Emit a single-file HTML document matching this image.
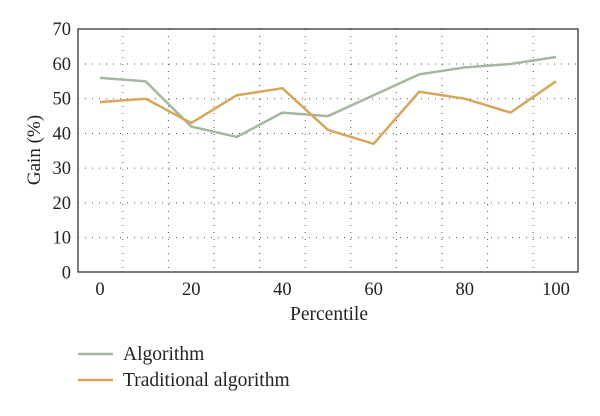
<!DOCTYPE html>
<html><head><meta charset="utf-8"><style>
body{margin:0;background:#fff;}
svg text{font-family:"Liberation Serif",serif;fill:#222;}
</style></head><body>
<svg width="600" height="411" viewBox="0 0 600 411">
<g id="grid"></g>
<rect x="78" y="29" width="500" height="243" fill="none" stroke="#333" stroke-width="1.3"/>
<g id="ticks"></g>
<g id="series"></g>
<text x="40" y="150" font-size="19" text-anchor="middle" transform="rotate(-90 40 150)">Gain (%)</text>
<text x="329" y="320" font-size="19.5" text-anchor="middle">Percentile</text>
<g>
<line x1="78" y1="354" x2="113" y2="354" stroke="#a3b89c" stroke-width="2.5"/>
<text x="123" y="360" font-size="19.5">Algorithm</text>
<line x1="78" y1="380" x2="113" y2="380" stroke="#d6a65c" stroke-width="2.5"/>
<text x="123" y="386" font-size="19.5">Traditional algorithm</text>
</g>
</svg>
<script>
const percentiles=[0,10,20,30,40,50,60,70,80,90,100];
const algorithm=[56,55,42,39,46,45,51,57,59,60,62];
const traditional=[49,50,43,51,53,41,37,52,50,46,55];
const xTicks=[0,20,40,60,80,100];
const yTicks=[0,10,20,30,40,50,60,70];
const NS="http://www.w3.org/2000/svg";
const xs=v=>100+v*4.56;
const ys=v=>272.4-v*3.474;
const grid=document.getElementById('grid'),ticks=document.getElementById('ticks'),series=document.getElementById('series');
function mk(t,a){const e=document.createElementNS(NS,t);for(const k in a)e.setAttribute(k,a[k]);return e;}
for(let g=5;g<100;g+=10){const l=mk('line',{x1:xs(g),x2:xs(g),y1:29,y2:272,stroke:'#555','stroke-width':1,'stroke-dasharray':'1 6'});

grid.appendChild(l);}
for(let g=10;g<70;g+=10){const l=mk('line',{x1:78,x2:578,y1:ys(g),y2:ys(g),stroke:'#555','stroke-width':1,'stroke-dasharray':'1 6'});

grid.appendChild(l);}
xTicks.forEach(v=>{const t=mk('text',{x:xs(v),y:295,'font-size':18.5,'text-anchor':'middle'});t.textContent=v;

ticks.appendChild(t);});
yTicks.forEach(v=>{const t=mk('text',{x:71,y:ys(v)+6,'font-size':18.5,'text-anchor':'end'});t.textContent=v;

ticks.appendChild(t);});
function line(vals,color,name){const p=mk('polyline',{points:vals.map((v,i)=>xs(percentiles[i])+','+ys(v)).join(' '),fill:'none',stroke:color,'stroke-width':2.5,'stroke-linejoin':'round'});

series.appendChild(p);}
line(algorithm,'#a3b89c','algorithm-line');
line(traditional,'#d6a65c','traditional-algorithm-line');
</script>
</body></html>
